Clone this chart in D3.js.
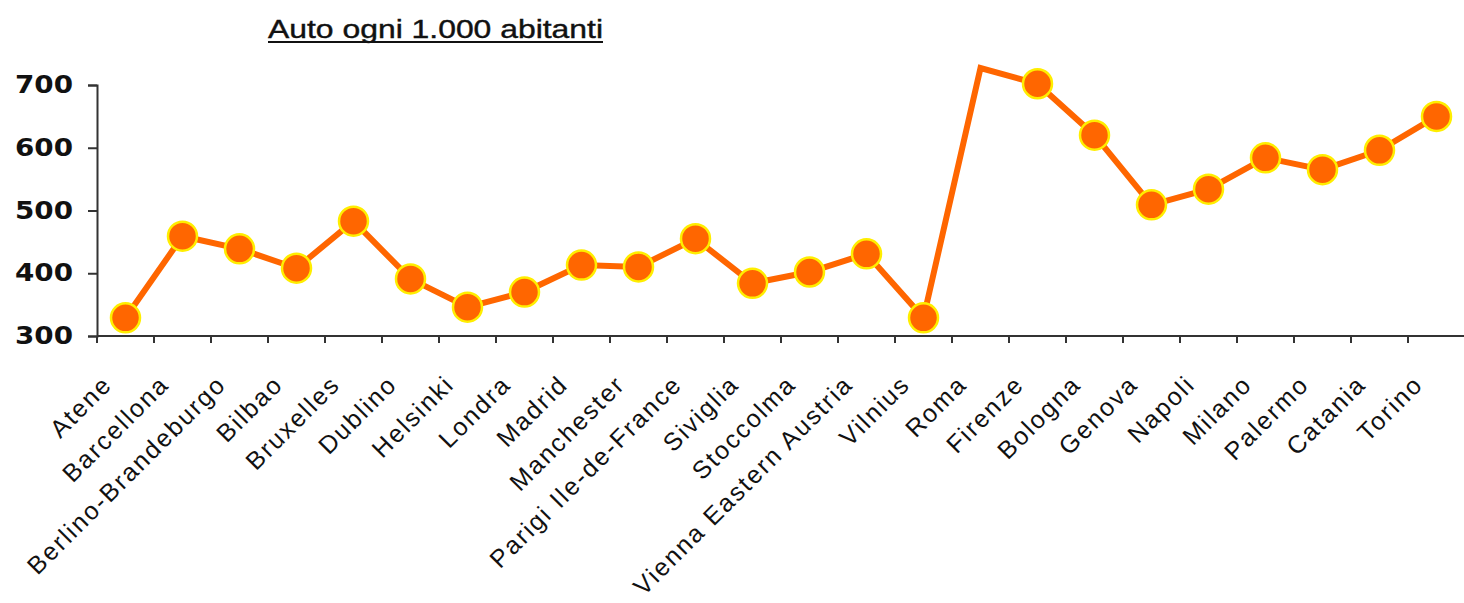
<!DOCTYPE html>
<meta charset="utf-8">
<script src="https://d3js.org/d3.v7.min.js"></script>
<style>
  body { margin: 0; background: #fff; }
</style>
<svg id="chart" width="1464" height="603"></svg>
<script>
// data
const cities = ["Atene", "Barcellona", "Berlino-Brandeburgo", "Bilbao", "Bruxelles", "Dublino",
  "Helsinki", "Londra", "Madrid", "Manchester", "Parigi Ile-de-France", "Siviglia", "Stoccolma",
  "Vienna Eastern Austria", "Vilnius", "Roma", "Firenze", "Bologna", "Genova", "Napoli",
  "Milano", "Palermo", "Catania", "Torino"];
const autoPer1000 = [329, 459, 439, 408, 483, 391, 346, 370, 413, 410, 455, 384, 402, 431, 329,
  727, 702, 620, 509, 534, 584, 565, 596, 650];
const yTicks = [300, 400, 500, 600, 700];

const svg = d3.select("#chart"),
    mLeft = 97, mRight = 1465, mTop = 85, mBottom = 336;

const x = d3.scaleBand().domain(cities).range([mLeft, mRight]);
const y = d3.scaleLinear().domain([300, 700]).range([mBottom, mTop]);

// title
svg.append("text")
    .attr("x", 268).attr("y", 38)
    .attr("textLength", 335).attr("lengthAdjust", "spacingAndGlyphs")
    .style("font-family", "Liberation Sans, Arial, sans-serif")
    .style("font-size", "26px")
    .attr("stroke", "#111").attr("stroke-width", 0.4)
    .attr("fill", "#111")
    .text("Auto ogni 1.000 abitanti");
svg.append("line")
    .attr("x1", 268).attr("x2", 603).attr("y1", 42).attr("y2", 42)
    .attr("stroke", "#111").attr("stroke-width", 2);

// y axis
const yAxis = svg.append("g")
    .attr("transform", `translate(${mLeft},0)`)
    .call(d3.axisLeft(y).tickValues(yTicks).tickSize(9).tickPadding(15).tickFormat(d3.format("d")));
yAxis.selectAll("text")
    .attr("textLength", 58).attr("lengthAdjust", "spacingAndGlyphs")
    .style("font-family", "DejaVu Sans, Verdana, sans-serif")
    .style("font-weight", "bold")
    .style("font-size", "24px")
    .attr("fill", "#111");

// x axis: ticks at category boundaries
const xg = svg.append("g");
xg.append("line")
    .attr("x1", mLeft).attr("x2", mRight).attr("y1", mBottom).attr("y2", mBottom);
xg.selectAll(".tk")
    .data(cities.map((c, i) => mLeft + i * x.step()).concat([mRight]))
    .join("line")
    .attr("x1", d => d).attr("x2", d => d)
    .attr("y1", mBottom).attr("y2", mBottom + 7);
xg.selectAll("line").attr("stroke", "#333").attr("stroke-width", 2);
svg.selectAll(".domain, .tick line").attr("stroke", "#333").attr("stroke-width", 2);

xg.selectAll(".lbl")
    .data(cities)
    .join("text")
    .attr("transform", d => `translate(${x(d) + x.bandwidth() / 2 - 12},${mBottom + 50}) rotate(-45)`)
    .attr("text-anchor", "end")
    .style("font-family", "Liberation Sans, Arial, sans-serif")
    .style("font-size", "25px")
    .style("letter-spacing", "2px")
    .attr("fill", "#111")
    .text(d => d);

// line
const pts = cities.map((c, i) => ({ c, v: autoPer1000[i] }));
svg.append("path")
    .datum(pts)
    .attr("fill", "none")
    .attr("stroke", "#ff6600")
    .attr("stroke-width", 6)
    .attr("stroke-linejoin", "miter")
    .attr("d", d3.line().x(d => x(d.c) + x.bandwidth() / 2).y(d => y(d.v)));

// markers (hidden when above the plot area, as in the original)
svg.selectAll(".dot")
    .data(pts.filter(d => d.v <= 710))
    .join("circle")
    .attr("cx", d => x(d.c) + x.bandwidth() / 2)
    .attr("cy", d => y(d.v))
    .attr("r", 14.5)
    .attr("fill", "#ff6600")
    .attr("stroke", "#ffee00")
    .attr("stroke-width", 2.5);
</script>
